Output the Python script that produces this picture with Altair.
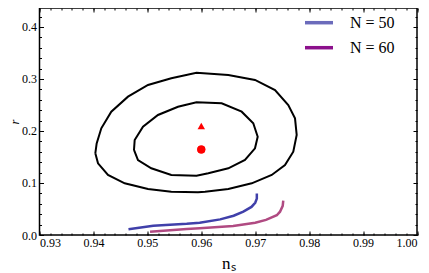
import altair as alt
import pandas as pd

# ---- data ----
outer_ns = [0.94035, 0.94060, 0.94146, 0.94331, 0.94641, 0.95012, 0.95444, 0.95911, 0.96501, 0.96996,
            0.97367, 0.97613, 0.97738, 0.97769, 0.97706, 0.97552, 0.97306, 0.96935, 0.96501, 0.96069,
            0.95939, 0.95444, 0.95012, 0.94580, 0.94270, 0.94085, 0.94035]
outer_r = [0.1571, 0.1760, 0.2052, 0.2371, 0.2660, 0.2885, 0.3013, 0.3119, 0.3077, 0.2981,
           0.2788, 0.2500, 0.2244, 0.1923, 0.1602, 0.1346, 0.1154, 0.0994, 0.0885, 0.0833,
           0.0823, 0.0833, 0.0885, 0.0994, 0.1154, 0.1379, 0.1571]
inner_ns = [0.94752, 0.94765, 0.94919, 0.95197, 0.95568, 0.95911, 0.96378, 0.96749, 0.96964, 0.97046,
            0.96996, 0.96810, 0.96501, 0.96130, 0.95911, 0.95444, 0.95073, 0.94826, 0.94752]
inner_r = [0.1635, 0.1827, 0.2083, 0.2308, 0.2467, 0.2552, 0.2533, 0.2371, 0.2148, 0.1890,
           0.1667, 0.1442, 0.1283, 0.1187, 0.1138, 0.1154, 0.1283, 0.1442, 0.1635]

n50_ns = [0.9465, 0.9511, 0.9573, 0.9597, 0.9635, 0.9660, 0.9678, 0.9693, 0.9700, 0.9703, 0.9703]
n50_r = [0.0110, 0.0179, 0.0215, 0.0237, 0.0300, 0.0370, 0.0450, 0.0540, 0.0620, 0.0700, 0.0800]
n60_ns = [0.9505, 0.9573, 0.9597, 0.9659, 0.9700, 0.9720, 0.9740, 0.9746, 0.9751, 0.9752]
n60_r = [0.0063, 0.0115, 0.0129, 0.0173, 0.0235, 0.0290, 0.0380, 0.0448, 0.0560, 0.0660]

tri_ns, tri_r = [0.960], [0.2096]
dot_ns, dot_r = [0.960], [0.1645]

legend_labels = ["N = 50", "N = 60"]
legend_colors = ["#6b6bbb", "#8c108c"]
curve_colors = ["#4040aa", "#b04a82"]

x_major = [0.93, 0.94, 0.95, 0.96, 0.97, 0.98, 0.99, 1.00]
x_minor = [round(0.93 + 0.002 * i, 3) for i in range(36)]
y_major = [0.0, 0.1, 0.2, 0.3, 0.4]
y_minor = [round(0.02 * i, 2) for i in range(22)]

# ---- layout ----
W, H = 377.5, 227
FONT = "Liberation Serif"

def contour_df(ns, r, name):
    return pd.DataFrame({"ns": ns, "r": r, "c": name, "i": range(len(ns))})

contours = pd.concat([contour_df(outer_ns, outer_r, "outer"), contour_df(inner_ns, inner_r, "inner")])
curves = pd.concat([contour_df(n50_ns, n50_r, "N50"), contour_df(n60_ns, n60_r, "N60")])

xs = alt.Scale(domain=[0.93, 1.0], nice=False, zero=False)
ys = alt.Scale(domain=[0.0, 0.4365], nice=False, zero=False)

def tick_axes(orient_x, orient_y, xv, yv, size):
    ax = alt.Axis(orient=orient_x, offset=-H, values=xv, tickSize=size, labels=False,
                  domain=False, grid=False, title=None, tickColor="black", tickWidth=1)
    ay = alt.Axis(orient=orient_y, offset=-W, values=yv, tickSize=size, labels=False,
                  domain=False, grid=False, title=None, tickColor="black", tickWidth=1)
    return ax, ay

# main axes with labels
main_x = alt.Axis(orient="bottom", values=x_major, format=".2f", ticks=False, domain=False, grid=False,
                  labelFont=FONT, labelFontSize=12, labelColor="black", labelPadding=2,
                  title="nₛ", titleFont=FONT, titleFontSize=17, titleFontWeight="normal",
                  titleColor="black", titlePadding=7)
main_y = alt.Axis(orient="left", values=y_major, format=".1f", ticks=False, domain=False, grid=False,
                  labelFont=FONT, labelFontSize=12, labelColor="black", labelPadding=3,
                  title="r", titleFont=FONT, titleFontSize=12.5, titleFontStyle="italic",
                  titleFontWeight="normal", titleColor="black", titlePadding=0.5)

contour_layer = alt.Chart(contours).mark_line(color="black", strokeWidth=2).encode(
    x=alt.X("ns:Q", scale=xs, axis=main_x),
    y=alt.Y("r:Q", scale=ys, axis=main_y),
    detail="c:N", order="i:Q")

ax1, ay1 = tick_axes("top", "right", x_major, y_major, 4)
curve_layer = alt.Chart(curves).mark_line(strokeWidth=2.5).encode(
    x=alt.X("ns:Q", scale=xs, axis=ax1),
    y=alt.Y("r:Q", scale=ys, axis=ay1),
    color=alt.Color("c:N", scale=alt.Scale(domain=["N50", "N60"], range=curve_colors), legend=None),
    order="i:Q")

ax2, ay2 = tick_axes("top", "right", x_minor, y_minor, 2)
tri_layer = alt.Chart(pd.DataFrame({"ns": tri_ns, "r": tri_r})).mark_point(
    shape="triangle-up", filled=True, color="#ff0000", size=55, opacity=1).encode(
    x=alt.X("ns:Q", scale=xs, axis=ax2), y=alt.Y("r:Q", scale=ys, axis=ay2))

ax3, ay3 = tick_axes("bottom", "left", x_major, y_major, 4)
dot_layer = alt.Chart(pd.DataFrame({"ns": dot_ns, "r": dot_r})).mark_point(
    shape="circle", filled=True, color="#ff0000", size=65, opacity=1).encode(
    x=alt.X("ns:Q", scale=xs, axis=ax3), y=alt.Y("r:Q", scale=ys, axis=ay3))

ax4, ay4 = tick_axes("bottom", "left", x_minor, y_minor, 2)
dot_layer2 = alt.Chart(pd.DataFrame({"ns": dot_ns, "r": dot_r})).mark_point(
    shape="circle", filled=True, color="#ff0000", size=65, opacity=1).encode(
    x=alt.X("ns:Q", scale=xs, axis=ax4), y=alt.Y("r:Q", scale=ys, axis=ay4))

# legend (manual)
leg_layers = []
for k, (lab, col) in enumerate(zip(legend_labels, legend_colors)):
    yy = 14.7 + 25 * k
    leg_layers.append(alt.Chart(pd.DataFrame({"lab": [lab]})).mark_rule(color=col, strokeWidth=3.5).encode(
        x=alt.value(265.5), x2=alt.value(293.5), y=alt.value(yy)))
    leg_layers.append(alt.Chart(pd.DataFrame({"lab": [lab]})).mark_text(
        font=FONT, fontSize=16, color="black", align="left", baseline="middle").encode(
        x=alt.value(310.5), y=alt.value(yy + 0.5), text="lab:N"))

chart = alt.layer(contour_layer, curve_layer, tri_layer, dot_layer, dot_layer2, *leg_layers).resolve_axis(
    x="independent", y="independent").properties(
    width=W, height=H,
    autosize=alt.AutoSizeParams(type="none"),
    padding={"left": 31.5, "top": 0, "right": 4, "bottom": 38},
    background="white").configure_view(stroke="black", strokeWidth=1.5)

chart.save("out.html", embed_options={"renderer": "svg", "actions": False})
